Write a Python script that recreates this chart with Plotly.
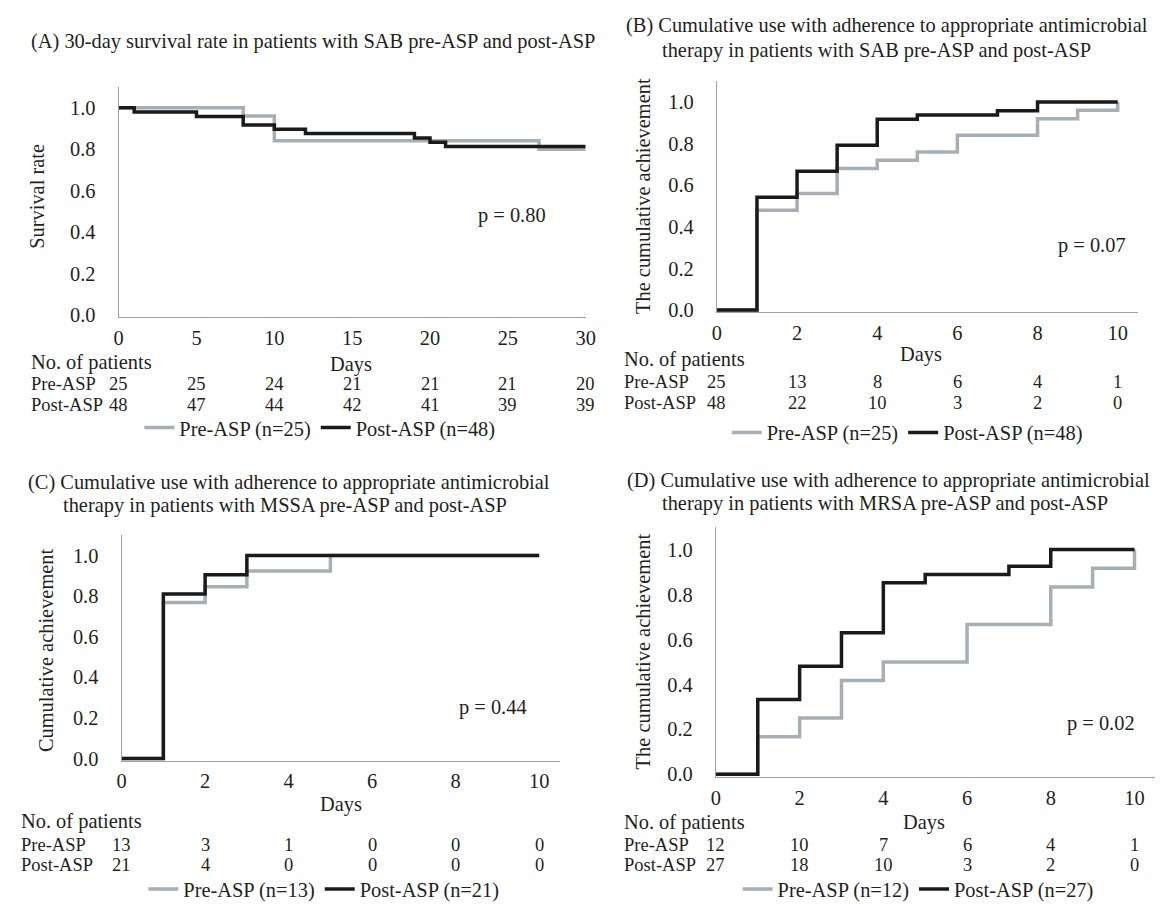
import plotly.graph_objects as go

W, H = 1174, 904
FONT = "Liberation Serif"
FS = 20.4
TFS = 18.5
TXT = "#231f20"
GRAY = "#a7aeb4"
BLACK = "#1a1a1a"
AXC = "#a0a0a0"

# ---------------- data ----------------
# Panel A: 30-day survival (SAB)
a_ticks = [0, 5, 10, 15, 20, 25, 30]
a_pre_t = [0, 8, 10, 27, 30]
a_pre_v = [1.0, 0.96, 0.84, 0.80, 0.80]
a_post_t = [0, 1, 5, 8, 10, 12, 19, 20, 21, 30]
a_post_v = [1.0, 0.979, 0.958, 0.917, 0.896, 0.875, 0.854, 0.833, 0.8125, 0.8125]
a_pre_risk = [25, 25, 24, 21, 21, 21, 20]
a_post_risk = [48, 47, 44, 42, 41, 39, 39]

# Panel B: cumulative adherence (SAB)
b_ticks = [0, 2, 4, 6, 8, 10]
b_pre_t = [0, 1, 2, 3, 4, 5, 6, 8, 9, 10]
b_pre_v = [0, 0.48, 0.56, 0.68, 0.72, 0.76, 0.84, 0.92, 0.96, 1.0]
b_post_t = [0, 1, 2, 3, 4, 5, 7, 8, 10]
b_post_v = [0, 0.542, 0.667, 0.792, 0.917, 0.9375, 0.958, 1.0, 1.0]
b_pre_risk = [25, 13, 8, 6, 4, 1]
b_post_risk = [48, 22, 10, 3, 2, 0]

# Panel C: cumulative adherence (MSSA)
c_ticks = [0, 2, 4, 6, 8, 10]
c_pre_t = [0, 1, 2, 3, 5, 10]
c_pre_v = [0, 0.769, 0.846, 0.923, 1.0, 1.0]
c_post_t = [0, 1, 2, 3, 10]
c_post_v = [0, 0.81, 0.905, 1.0, 1.0]
c_pre_risk = [13, 3, 1, 0, 0, 0]
c_post_risk = [21, 4, 0, 0, 0, 0]

# Panel D: cumulative adherence (MRSA)
d_ticks = [0, 2, 4, 6, 8, 10]
d_pre_t = [0, 1, 2, 3, 4, 6, 8, 9, 10]
d_pre_v = [0, 0.167, 0.25, 0.417, 0.5, 0.667, 0.833, 0.917, 1.0]
d_post_t = [0, 1, 2, 3, 4, 5, 7, 8, 10]
d_post_v = [0, 0.333, 0.481, 0.630, 0.852, 0.889, 0.926, 1.0, 1.0]
d_pre_risk = [12, 10, 7, 6, 4, 1]
d_post_risk = [27, 18, 10, 3, 2, 0]

y_ticks = [0, 0.2, 0.4, 0.6, 0.8, 1.0]

# ---------------- layout helpers ----------------
def px(x):
    return x / W

def py(y):
    return 1 - y / H

fig = go.Figure()
annotations = []

def text(x, y, s, xanchor="left", xref="paper", angle=0, size=FS):
    annotations.append(dict(
        x=x if xref != "paper" else px(x), y=py(y), xref=xref, yref="paper",
        text=s, showarrow=False, xanchor=xanchor, yanchor="middle",
        textangle=angle, borderpad=0,
        font=dict(family=FONT, size=size, color=TXT)))

panels = [
    dict(k="", ticks=a_ticks, pre=(a_pre_t, a_pre_v), post=(a_post_t, a_post_v),
         risk=(a_pre_risk, a_post_risk), n=(25, 48),
         x0=107, ux=15.77, xmax=30, y0=310, uy=209.3,
         title=[(17, 34, "(A) 30-day survival rate in patients with SAB pre-ASP and post-ASP")],
         ylab=(24, 190, "Survival rate"),
         nop=(17, 358), days=(342, 360), rows=(17, 380, 401),
         p=(505, 210, "p = 0.80"), leg=(128, 424)),
    dict(k="2", ticks=b_ticks, pre=(b_pre_t, b_pre_v), post=(b_post_t, b_post_v),
         risk=(b_pre_risk, b_post_risk), n=(25, 48),
         x0=713, ux=40.6, xmax=10.5, y0=305, uy=210,
         title=[(620, 18, "(B) Cumulative use with adherence to appropriate antimicrobial"),
                (656, 43, "therapy in patients with SAB pre-ASP and post-ASP")],
         ylab=(638, 190, "The cumulative achievement"),
         nop=(618, 355), days=(920, 350), rows=(618, 378, 399),
         p=(1093, 240, "p = 0.07"), leg=(723, 429)),
    dict(k="3", ticks=c_ticks, pre=(c_pre_t, c_pre_v), post=(c_post_t, c_post_v),
         risk=(c_pre_risk, c_post_risk), n=(13, 21),
         x0=110, ux=42.3, xmax=10.5, y0=758, uy=205,
         title=[(14, 479, "(C) Cumulative use with adherence to appropriate antimicrobial"),
                (50, 502, "therapy in patients with MSSA pre-ASP and post-ASP")],
         ylab=(33, 649, "Cumulative achievement"),
         nop=(7, 822), days=(332, 805), rows=(7, 845, 866),
         p=(486, 707, "p = 0.44"), leg=(132, 890)),
    dict(k="4", ticks=d_ticks, pre=(d_pre_t, d_pre_v), post=(d_post_t, d_post_v),
         risk=(d_pre_risk, d_post_risk), n=(12, 27),
         x0=712, ux=42.4, xmax=10.5, y0=774, uy=227,
         title=[(621, 477, "(D) Cumulative use with adherence to appropriate antimicrobial"),
                (656, 500, "therapy in patients with MRSA pre-ASP and post-ASP")],
         ylab=(638, 650, "The cumulative achievement"),
         nop=(618, 823), days=(923, 823), rows=(618, 845, 866),
         p=(1102, 723, "p = 0.02"), leg=(734, 890)),
]

YMIN, YMAX = -0.012, 1.1
layout_axes = {}
for P in panels:
    k = P["k"]
    xa, ya = "x" + k, "y" + k
    legname = "legend" + k
    fig.add_trace(go.Scatter(x=P["pre"][0], y=P["pre"][1], mode="lines",
                             line=dict(color=GRAY, width=3.5, shape="hv"),
                             name=f"Pre-ASP (n={P['n'][0]})",
                             xaxis=xa, yaxis=ya, legend=legname))
    fig.add_trace(go.Scatter(x=P["post"][0], y=P["post"][1], mode="lines",
                             line=dict(color=BLACK, width=3.5, shape="hv"),
                             name=f"Post-ASP (n={P['n'][1]})",
                             xaxis=xa, yaxis=ya, legend=legname))
    xd = [px(P["x0"]), px(P["x0"] + P["xmax"] * P["ux"])]
    yd = [py(P["y0"] - YMIN * P["uy"]), py(P["y0"] - YMAX * P["uy"])]
    layout_axes["xaxis" + k] = dict(
        domain=xd, range=[0, P["xmax"]], tickvals=P["ticks"],
        showline=True, linecolor=AXC, linewidth=1.2, showgrid=False, zeroline=False,
        ticks="outside", ticklen=2, tickcolor="rgba(0,0,0,0)",
        tickfont=dict(family=FONT, size=FS, color=TXT), anchor=ya, fixedrange=True)
    layout_axes["yaxis" + k] = dict(
        domain=yd, range=[YMIN, YMAX], tickvals=y_ticks, tickformat=".1f",
        showline=True, linecolor=AXC, linewidth=1.2, showgrid=False, zeroline=False,
        ticks="outside", ticklen=18, tickcolor="rgba(0,0,0,0)",
        tickfont=dict(family=FONT, size=FS, color=TXT), anchor=xa, fixedrange=True)
    for (tx, ty, s) in P["title"]:
        text(tx, ty, s)
    text(P["ylab"][0], P["ylab"][1], P["ylab"][2], xanchor="center", angle=-90)
    text(P["nop"][0], P["nop"][1], "No. of patients")
    text(P["days"][0], P["days"][1], "Days", xanchor="center")
    rx, ry1, ry2 = P["rows"]
    text(rx, ry1, "Pre-ASP", size=TFS)
    text(rx, ry2, "Post-ASP", size=TFS)
    for t, v in zip(P["ticks"], P["risk"][0]):
        text(t, ry1, str(v), xanchor="center", xref=xa, size=TFS)
    for t, v in zip(P["ticks"], P["risk"][1]):
        text(t, ry2, str(v), xanchor="center", xref=xa, size=TFS)
    text(P["p"][0], P["p"][1], P["p"][2], xanchor="center")
    layout_axes[legname] = dict(
        x=px(P["leg"][0]), y=py(P["leg"][1]), xanchor="left", yanchor="middle",
        orientation="h", bgcolor="rgba(0,0,0,0)", borderwidth=0,
        font=dict(family=FONT, size=FS, color=TXT), itemclick=False, itemdoubleclick=False)

fig.update_layout(
    width=W, height=H, margin=dict(l=0, r=0, t=0, b=0),
    paper_bgcolor="white", plot_bgcolor="white",
    showlegend=True, annotations=annotations,
    font=dict(family=FONT, size=FS, color=TXT),
    **layout_axes)

fig.write_html("out.html")
